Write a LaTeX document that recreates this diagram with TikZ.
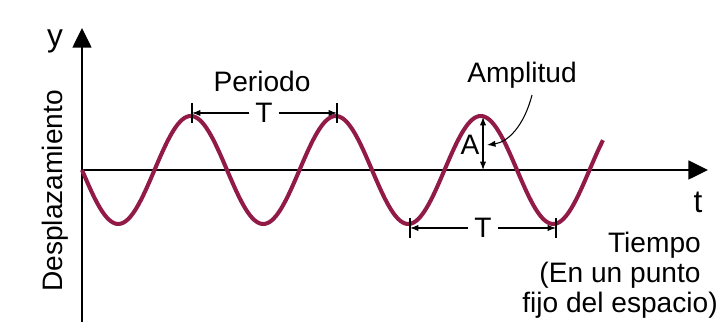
\documentclass[tikz,border=0pt]{standalone}
\usepackage{fontspec}
\setmainfont{Liberation Sans}
\usetikzlibrary{arrows.meta}
\definecolor{wavecol}{RGB}{145,26,70}

\begin{document}
\begin{tikzpicture}[x=0.01cm, y=-0.01cm,
	every node/.style={font=\fontsize{8}{9.5}\selectfont, inner sep=1pt},
	>={Latex[length=2.4pt,width=1.8pt]},
	axis/.style={line width=0.45pt, -{Triangle[length=5.6pt,width=5.4pt]}},
	dim/.style={line width=0.3pt, ->},
	tick/.style={line width=0.3pt},
	wave/.style={wavecol, line width=1.15pt, line join=round}]
	\useasboundingbox (0,0) rectangle (722,328);
	\coordinate (o) at (82,170);
	\coordinate (ybot) at (82,322);
	\coordinate (ytop) at (82,28);
	\coordinate (xend) at (708,170);
	\draw[axis] (ybot) -- (ytop);
	\draw[axis] (o) -- (xend);
	\draw[wave] plot[domain=82:603, samples=240] (\x, {170+54*sin((\x-82)/145*360)});
	\node[anchor=base, font=\fontsize{9}{10}\selectfont] (ylab) at (55,47) {y};
	\node[anchor=base, font=\fontsize{9}{10}\selectfont] (tlab) at (698,213) {t};
	\node[rotate=90, anchor=base] (desp) at (62,191) {Desplazamiento};
	\node[anchor=base east] (tiempo) at (705,253) {Tiempo};
	\node[anchor=base] (punto) at (620,283) {(En un punto};
	\node[anchor=base] (fijo) at (620,313) {fijo del espacio)};
	% periodo arriba
	\coordinate (p1) at (192,113);
	\coordinate (p2) at (337,113);
	\node[anchor=base] (periodo) at (262,92) {Periodo};
	\node[inner xsep=1.5pt] (tper) at (264,113) {T};
	\draw[dim] (tper) -- (p1);
	\draw[dim] (tper) -- (p2);
	\draw[tick] (p1) ++(0,-10) -- ++(0,20);
	\draw[tick] (p2) ++(0,-10) -- ++(0,20);
	% periodo abajo
	\coordinate (q1) at (410,228);
	\coordinate (q2) at (556,228);
	\node[inner xsep=1.5pt] (tval) at (483,228) {T};
	\draw[dim] (tval) -- (q1);
	\draw[dim] (tval) -- (q2);
	\draw[tick] (q1) ++(0,-10) -- ++(0,20);
	\draw[tick] (q2) ++(0,-10) -- ++(0,20);
	% amplitud
	\coordinate (apk) at (483,117);
	\coordinate (abase) at (483,170);
	\draw[dim, <->] (apk) -- (abase);
	\node (alab) at (470,145) {A};
	\node[anchor=base] (amp) at (522,83) {Amplitud};
	\coordinate (lead) at (532,95);
	\coordinate (aend) at (487,145);
	\draw[dim] (lead) .. controls (524,126) and (508,142) .. (aend);
\end{tikzpicture}
\end{document}
